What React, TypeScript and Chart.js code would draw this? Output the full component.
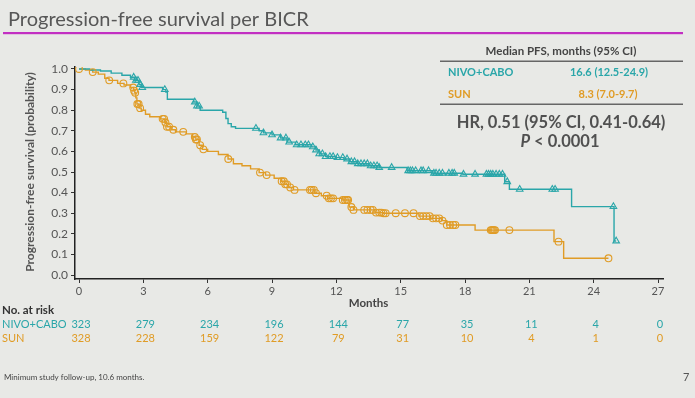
import React, { useEffect, useRef } from 'react';
import { Chart, registerables } from 'chart.js';

Chart.register(...registerables);

const FONT = 'Lato, "DejaVu Sans", sans-serif';
const TEAL = '#2aa6a9';
const ORANGE = '#e09c26';

const xTickValues = [0, 3, 6, 9, 12, 15, 18, 21, 24, 27];
const yTickValues = [0, 0.1, 0.2, 0.3, 0.4, 0.5, 0.6, 0.7, 0.8, 0.9, 1.0];

const nivoRisk = [323, 279, 234, 196, 144, 77, 35, 11, 4, 0];
const sunRisk = [328, 228, 159, 122, 79, 31, 10, 4, 1, 0];

// Kaplan-Meier steps: [month, survival from that month on]
const nivoSteps: [number, number][] = [
  [0, 1.0], [0.5, 0.995], [1.0, 0.99], [1.5, 0.98], [2.0, 0.97], [2.4, 0.96],
  [2.6, 0.945], [2.8, 0.925], [2.9, 0.91], [3.9, 0.9], [4.05, 0.888], [4.12, 0.853],
  [5.35, 0.84], [5.5, 0.82], [5.65, 0.8], [6.7, 0.79], [6.85, 0.76], [6.95, 0.735],
  [7.1, 0.72], [7.3, 0.712], [8.4, 0.7], [8.6, 0.69], [9.0, 0.68], [9.4, 0.665],
  [9.7, 0.645], [10.1, 0.632], [10.85, 0.622], [11.05, 0.607], [11.2, 0.588],
  [11.5, 0.575], [12.0, 0.57], [12.35, 0.563], [12.6, 0.55], [13.0, 0.54],
  [13.5, 0.53], [14.0, 0.522], [15.3, 0.506], [16.5, 0.494], [17.9, 0.489],
  [19.85, 0.453], [20.07, 0.416], [22.97, 0.332], [24.95, 0.165], [25.05, 0.165],
];

const sunSteps: [number, number][] = [
  [0, 1.0], [0.3, 0.995], [0.64, 0.985], [0.9, 0.975], [1.2, 0.955], [1.4, 0.945],
  [1.8, 0.93], [2.1, 0.922], [2.4, 0.91], [2.55, 0.895], [2.6, 0.885], [2.65, 0.86],
  [2.7, 0.83], [2.8, 0.81], [2.9, 0.8], [3.1, 0.78], [3.3, 0.768], [3.8, 0.758],
  [4.0, 0.74], [4.1, 0.72], [4.3, 0.705], [4.5, 0.695], [5.0, 0.685], [5.3, 0.67],
  [5.45, 0.658], [5.6, 0.63], [5.75, 0.61], [6.0, 0.6], [6.5, 0.585], [6.95, 0.563],
  [7.2, 0.54], [7.6, 0.53], [8.0, 0.515], [8.4, 0.497], [8.7, 0.485], [9.1, 0.47],
  [9.45, 0.455], [9.6, 0.44], [9.75, 0.425], [10.0, 0.413], [11.0, 0.397],
  [11.3, 0.385], [11.6, 0.372], [12.3, 0.364], [12.6, 0.33], [12.8, 0.316],
  [13.8, 0.303], [14.2, 0.3], [15.85, 0.286], [16.4, 0.275], [16.9, 0.264],
  [17.15, 0.243], [18.47, 0.218], [22.15, 0.162], [22.6, 0.081], [24.69, 0.081],
];

const nivoCensor = [
  2.55, 2.65, 2.75, 2.85, 2.95, 4.0, 5.4, 5.5, 5.6, 8.25, 8.6, 9.0, 9.4, 9.65, 9.8,
  10.15, 10.35, 10.55, 10.7, 10.9, 11.05, 11.2, 11.35, 11.5, 11.7, 11.85, 12.05,
  12.3, 12.5, 12.7, 12.85, 13.0, 13.15, 13.3, 13.45, 13.6, 13.75, 13.9, 14.0, 14.58,
  15.35, 15.45, 15.55, 15.7, 15.95, 16.05, 16.3, 16.55, 16.65, 16.8, 16.95, 17.25,
  17.4, 17.5, 17.93, 18.47, 19.0, 19.1, 19.2, 19.3, 19.45, 19.6, 19.75, 19.97,
  20.55, 22.07, 22.2, 24.92, 25.05,
];

const sunCensor = [
  0, 0.64, 1.41, 2.07, 2.53, 2.57, 2.62, 2.72, 2.78, 2.85, 3.9, 3.97, 4.03, 4.1, 4.2,
  4.4, 4.86, 5.4, 5.45, 5.5, 5.65, 5.8, 6.96, 8.44, 8.75, 9.45, 9.55, 9.62, 9.7, 9.85,
  10.05, 10.77, 10.85, 10.95, 11.05, 11.55, 11.65, 11.75, 11.85, 12.3, 12.4, 12.5,
  12.55, 12.7, 12.8, 13.3, 13.45, 13.6, 13.7, 13.85, 14.0, 14.1, 14.2, 14.3, 14.77,
  15.2, 15.6, 15.9, 16.05, 16.2, 16.35, 16.5, 16.65, 16.8, 16.95, 17.15, 17.3, 17.45,
  17.55, 19.2, 19.25, 19.3, 19.35, 19.4, 20.07, 22.36, 24.69,
];

function survAt(steps: [number, number][], t: number): number {
  let s = steps[0][1];
  for (const [ti, si] of steps) {
    if (ti <= t + 1e-9) s = si;
  }
  return s;
}

const overlayPlugin = {
  id: 'overlay',
  afterDraw(chart: any) {
    const ctx = chart.ctx as CanvasRenderingContext2D;
    const xs = chart.scales.x;
    ctx.save();
    ctx.textBaseline = 'alphabetic';

    // Title
    ctx.fillStyle = '#575757';
    ctx.font = `20px ${FONT}`;
    ctx.textAlign = 'left';
    ctx.fillText('Progression-free survival per BICR', 8, 26);
    ctx.fillStyle = '#c22fc2';
    ctx.fillRect(3, 32, 680, 2.2);

    // Y-axis title
    ctx.save();
    ctx.translate(34, 172);
    ctx.rotate(-Math.PI / 2);
    ctx.textAlign = 'center';
    ctx.textBaseline = 'alphabetic';
    ctx.fillStyle = '#555';
    ctx.font = `bold 12px ${FONT}`;
    ctx.fillText('Progression-free survival (probability)', 0, 0);
    ctx.restore();

    // X-axis title
    ctx.textAlign = 'center';
    ctx.textBaseline = 'middle';
    ctx.fillStyle = '#444';
    ctx.font = `bold 11.5px ${FONT}`;
    ctx.fillText('Months', (xs.getPixelForValue(0) + xs.getPixelForValue(27)) / 2, 303);

    // Risk table
    ctx.textAlign = 'left';
    ctx.fillStyle = '#333';
    ctx.font = `bold 11.5px ${FONT}`;
    ctx.fillText('No. at risk', 2, 310);
    ctx.font = `11px ${FONT}`;
    ctx.fillStyle = TEAL;
    ctx.fillText('NIVO+CABO', 2, 324);
    ctx.fillStyle = ORANGE;
    ctx.fillText('SUN', 2, 338);
    ctx.textAlign = 'center';
    xTickValues.forEach((t, i) => {
      const px = xs.getPixelForValue(t) + 2;
      ctx.fillStyle = TEAL;
      ctx.fillText(String(nivoRisk[i]), px, 324);
      ctx.fillStyle = ORANGE;
      ctx.fillText(String(sunRisk[i]), px, 338);
    });

    // Median table
    ctx.fillStyle = '#444';
    ctx.font = `bold 11.5px ${FONT}`;
    ctx.textAlign = 'center';
    ctx.fillText('Median PFS, months (95% CI)', 561, 51);
    ctx.fillStyle = '#666';
    ctx.fillRect(440, 60.5, 243, 1.5);
    ctx.fillRect(440, 103.5, 243, 1.5);
    ctx.font = `bold 11px ${FONT}`;
    ctx.textAlign = 'left';
    ctx.fillStyle = TEAL;
    ctx.fillText('NIVO+CABO', 448, 72);
    ctx.fillStyle = ORANGE;
    ctx.fillText('SUN', 448, 94);
    ctx.textAlign = 'center';
    ctx.fillStyle = TEAL;
    ctx.fillText('16.6 (12.5-24.9)', 609, 72);
    ctx.fillStyle = ORANGE;
    ctx.fillText('8.3 (7.0-9.7)', 608, 94);

    // HR
    ctx.fillStyle = '#505050';
    ctx.font = `bold 16.5px ${FONT}`;
    ctx.fillText('HR, 0.51 (95% CI, 0.41-0.64)', 561, 123);
    ctx.font = `italic bold 16.5px ${FONT}`;
    const pW = ctx.measureText('P').width;
    ctx.font = `bold 16.5px ${FONT}`;
    const restW = ctx.measureText(' < 0.0001').width;
    const startX = 560 - (pW + restW) / 2;
    ctx.textAlign = 'left';
    ctx.font = `italic bold 16.5px ${FONT}`;
    ctx.fillText('P', startX, 142);
    ctx.font = `bold 16.5px ${FONT}`;
    ctx.fillText(' < 0.0001', startX + pW, 142);

    // Footnote & page number
    ctx.fillStyle = '#444';
    ctx.font = `8px ${FONT}`;
    ctx.fillText('Minimum study follow-up, 10.6 months.', 4, 377);
    ctx.fillStyle = '#555';
    ctx.font = `11px ${FONT}`;
    ctx.fillText('7', 683, 377);

    ctx.restore();
  },
};

export default function App() {
  const canvasRef = useRef<HTMLCanvasElement | null>(null);

  useEffect(() => {
    const canvas = canvasRef.current;
    if (!canvas) return;
    const chart = new Chart(canvas, {
      type: 'line',
      data: {
        datasets: [
          {
            label: 'NIVO+CABO censored',
            data: nivoCensor.map((t) => ({ x: t, y: survAt(nivoSteps, t) })),
            showLine: false,
            pointStyle: 'triangle',
            pointRadius: 3.8,
            pointBorderWidth: 1.1,
            pointBorderColor: TEAL,
            pointBackgroundColor: 'rgba(0,0,0,0)',
            borderColor: TEAL,
          },
          {
            label: 'SUN censored',
            data: sunCensor.map((t) => ({ x: t, y: survAt(sunSteps, t) })),
            showLine: false,
            pointStyle: 'circle',
            pointRadius: 3.4,
            pointBorderWidth: 1.1,
            pointBorderColor: ORANGE,
            pointBackgroundColor: 'rgba(0,0,0,0)',
            borderColor: ORANGE,
          },
          {
            label: 'NIVO+CABO',
            data: nivoSteps.map(([x, y]) => ({ x, y })),
            stepped: 'before',
            borderColor: TEAL,
            borderWidth: 1.4,
            pointRadius: 0,
            fill: false,
          },
          {
            label: 'SUN',
            data: sunSteps.map(([x, y]) => ({ x, y })),
            stepped: 'before',
            borderColor: ORANGE,
            borderWidth: 1.4,
            pointRadius: 0,
            fill: false,
          },
        ],
      },
      options: {
        animation: false,
        responsive: false,
        devicePixelRatio: 1,
        layout: { padding: { left: 0, right: 32, top: 67, bottom: 0 } },
        plugins: { legend: { display: false }, tooltip: { enabled: false } },
        scales: {
          x: {
            type: 'linear',
            min: -0.187,
            max: 27.233,
            afterFit: (s: any) => { s.height = 119; },
            afterBuildTicks: (s: any) => { s.ticks = xTickValues.map((v) => ({ value: v })); },
            grid: { drawOnChartArea: false, drawTicks: true, tickLength: 4, color: '#333', lineWidth: 1 },
            border: { display: true, color: '#222', width: 1.5 },
            ticks: {
              padding: 2,
              color: '#555',
              font: { family: FONT, size: 11 },
              maxRotation: 0,
              autoSkip: false,
              callback: (v: any) => String(v),
            },
          },
          y: {
            type: 'linear',
            min: -0.0194,
            max: 1.0097,
            afterFit: (s: any) => { s.width = 75; },
            afterBuildTicks: (s: any) => { s.ticks = yTickValues.map((v) => ({ value: v })); },
            grid: { drawOnChartArea: false, drawTicks: true, tickLength: 4, color: '#333', lineWidth: 1 },
            border: { display: true, color: '#222', width: 1.5 },
            ticks: {
              padding: 3,
              color: '#555',
              font: { family: FONT, size: 12 },
              autoSkip: false,
              callback: (v: any) => Number(v).toFixed(1),
            },
          },
        },
      },
      plugins: [overlayPlugin],
    });
    return () => chart.destroy();
  }, []);

  return (
    <div style={{ position: 'fixed', left: 0, top: 0, width: 695, height: 398, background: '#e8e9e6', overflow: 'hidden' }}>
      <canvas ref={canvasRef} width={695} height={398} style={{ display: 'block', width: 695, height: 398 }} />
    </div>
  );
}
